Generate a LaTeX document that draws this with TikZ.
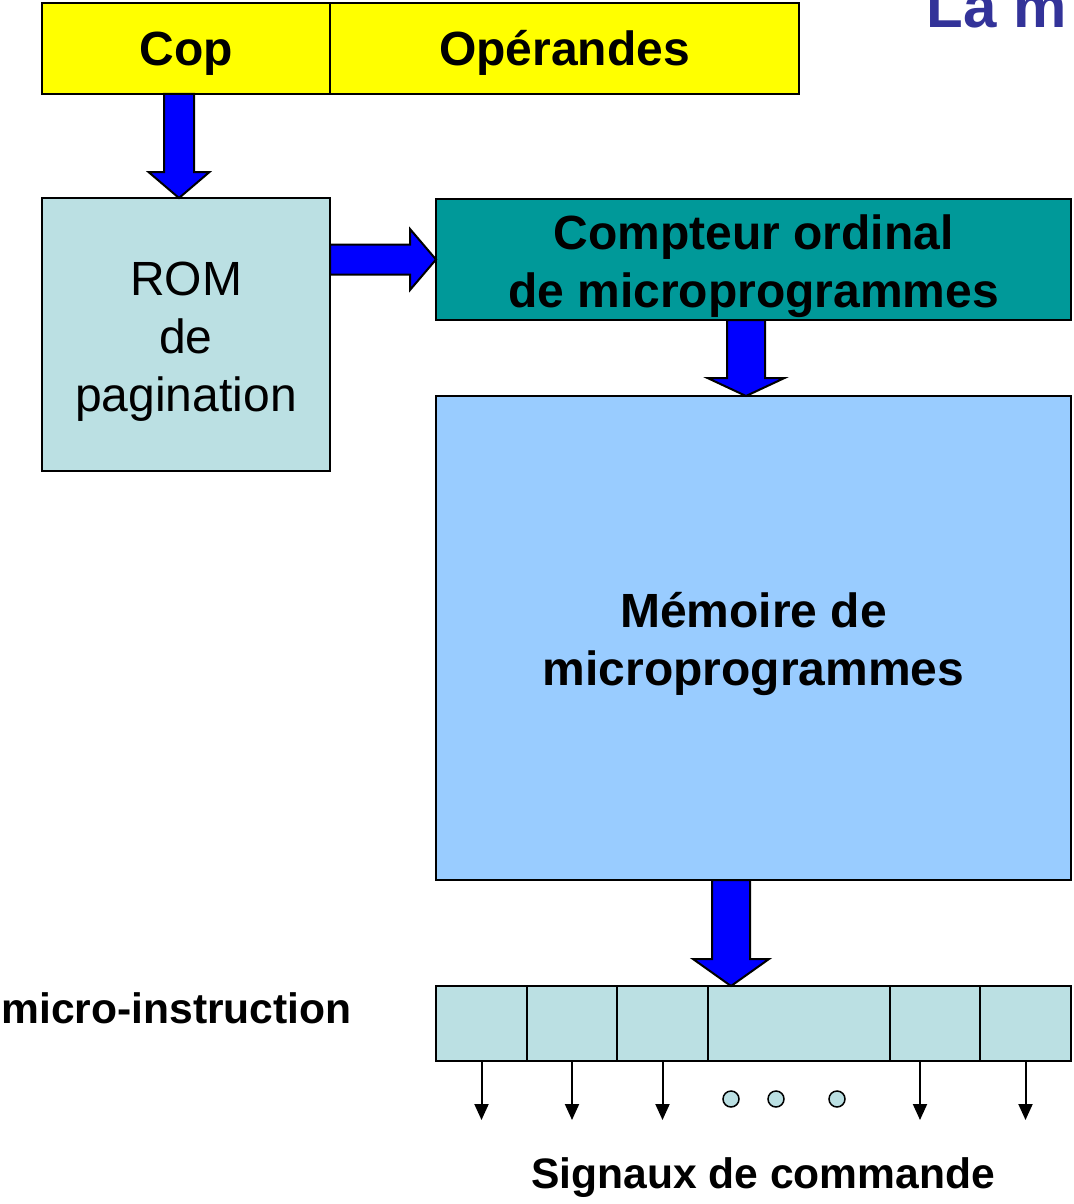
\documentclass[tikz,border=0pt]{standalone}
\usepackage{fontspec}
\setmainfont{Liberation Sans}
\usetikzlibrary{arrows.meta,positioning,calc}
\definecolor{jaune}{HTML}{FFFF00}
\definecolor{bleuclair}{HTML}{BBE0E3}
\definecolor{sarcelle}{HTML}{009999}
\definecolor{ciel}{HTML}{99CCFF}
\definecolor{bleufleche}{HTML}{0000FF}
\definecolor{titrebleu}{HTML}{333399}
\newcommand{\grossefleche}[5]{%
 \coordinate (gf-b) at ($(#2)!#5!(#1)$);
 \draw[fatarrow] ($(#1)!#3!90:(#2)$) -- ($(gf-b)!#3!90:(#2)$) -- ($(gf-b)!#4!90:(#2)$) -- (#2)
  -- ($(gf-b)!#4!-90:(#2)$) -- ($(gf-b)!#3!-90:(#2)$) -- ($(#1)!#3!-90:(#2)$) -- cycle;
}

\begin{document}
\begin{tikzpicture}[x=0.5pt,y=-0.5pt,
 box/.style={draw,line width=1pt,outer sep=0pt,inner sep=0pt,anchor=north west},
 gras/.style={font=\fontsize{24}{29}\selectfont\bfseries},
 maigre/.style={font=\fontsize{24}{29}\selectfont},
 petit/.style={font=\fontsize{21.3}{25}\selectfont\bfseries,inner sep=0pt},
 cell/.style={box,fill=bleuclair,minimum height=37.5pt},
 point/.style={circle,draw,line width=0.75pt,fill=bleuclair,inner sep=0pt,minimum size=8pt},
 fatarrow/.style={draw,line width=1pt,fill=bleufleche,line join=miter},
 sig/.style={line width=1pt,-{Triangle[width=7pt,length=8pt]}}]
 \useasboundingbox (0,0) rectangle (1074,1204);
 \node[box,fill=jaune,gras,minimum width=144pt,minimum height=45.5pt,text height=17.2pt,text depth=0pt] (cop) at (42,3) {Cop};
 \node[box,fill=jaune,gras,minimum width=234.5pt,minimum height=45.5pt,text height=17.2pt,text depth=0pt] (operandes) at (cop.north east) {Opérandes};
 \node[box,fill=bleuclair,minimum width=144pt,minimum height=136.5pt] (rom) at (42,198) {};
 \node[box,fill=sarcelle,minimum width=317.5pt,minimum height=60.5pt] (compteur) at (436,199) {};
 \node[box,fill=ciel,minimum width=317.5pt,minimum height=242pt] (memoire) at (436,396) {};
 \node[maigre,align=center] (romtxt) at ([yshift=-3.5pt]rom.center) {ROM\\de\\pagination};
 \node[gras,align=center] (compteurtxt) at ([yshift=-3.5pt]compteur.center) {Compteur ordinal\\de microprogrammes};
 \node[gras,align=center] (memoiretxt) at ([yshift=-3pt]memoire.center) {Mémoire de\\microprogrammes};
 \foreach \i/\x/\w in {1/436/45.5,2/527/45,3/617/45.5,4/708/91,5/890/45,6/980/45.5}
  \node[cell,minimum width=\w pt] (c\i) at (\x,986) {};
 \foreach \i/\x in {1/731,2/776,3/837}
  \node[point] (o\i) at (\x,1099) {};
 \foreach \i in {1,2,3,6}
  \draw[sig] (c\i.south) -- ++(0,59);
 \draw[sig] ([xshift=-7.5pt]c5.south) -- ++(0,59);
 \coordinate (f1a) at ([xshift=-3.5pt]cop.south);
 \coordinate (f1b) at ([xshift=-3.5pt]rom.north);
 \coordinate (f2a) at (rom.east |- compteur.west);
 \coordinate (f3a) at ([xshift=-3.75pt]compteur.south);
 \coordinate (f3b) at ([xshift=-3.75pt]memoire.north);
 \coordinate (f4a) at ([xshift=-11.25pt]memoire.south);
 \coordinate (f4b) at (f4a |- c4.north);
 \grossefleche{f1a}{f1b}{7.5pt}{15.25pt}{13pt}
 \grossefleche{f2a}{compteur.west}{7.5pt}{15.25pt}{13pt}
 \grossefleche{f3a}{f3b}{9.5pt}{19.25pt}{9pt}
 \grossefleche{f4a}{f4b}{9.5pt}{19pt}{13.5pt}
 \node[petit,anchor=base west] (microinstr) at (1,1023) {micro-instruction};
 \node[petit,anchor=base] (signaux) at (763,1188) {Signaux de commande};
 \node[font=\fontsize{30}{36}\selectfont\bfseries,text=titrebleu,anchor=base west,inner sep=0pt] (titre) at (926,28) {La m};
\end{tikzpicture}
\end{document}
